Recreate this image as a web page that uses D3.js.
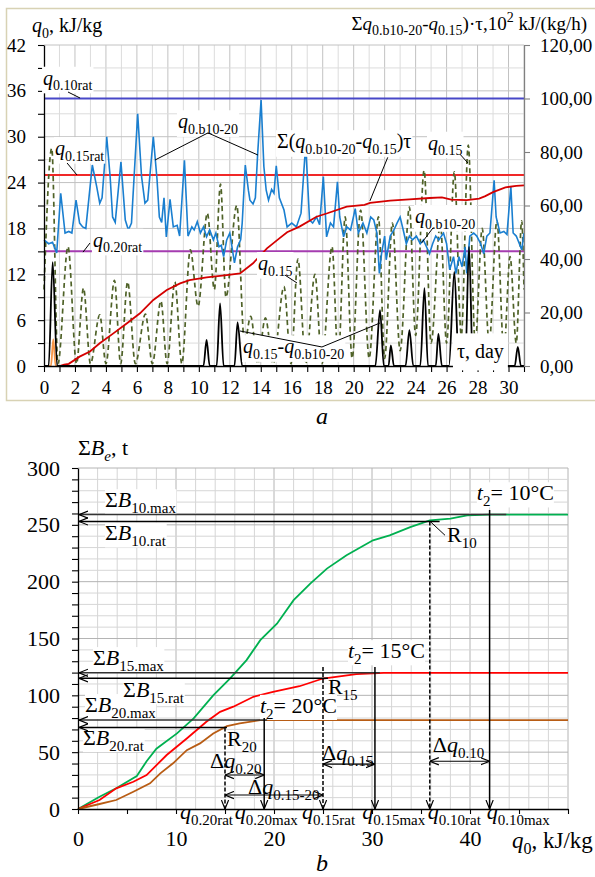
<!DOCTYPE html>
<html>
<head>
<meta charset="utf-8">
<script src="https://cdn.jsdelivr.net/npm/d3@7"></script>
<style>
  body { margin: 0; background: #fff; }
  svg text { white-space: pre; }
</style>
</head>
<body>
<script>
// ---------- chart a data: [day, value] ----------
const qb1020 = [
  [0,16.5],[0.3,16],[0.55,16.2],[0.82,14.8],[1.08,22.6],[1.36,17.4],[1.6,17.6],[1.8,17.4],[2.07,21.7],[2.3,18.7],
  [2.5,18.2],[2.7,18],[3.12,26.3],[3.4,23.5],[3.6,21.3],[3.75,22],[4.05,30],[4.27,24.8],[4.43,19.5],[4.6,18.8],
  [4.97,26.7],[5.25,19.1],[5.45,17.8],[5.65,18.7],[6.05,33],[6.3,24.8],[6.52,21.3],[6.7,21.7],[7.06,30],[7.3,24.4],
  [7.45,19.5],[7.6,18.8],[7.75,22],[7.9,16.9],[8.14,21.8],[8.35,18.2],[8.6,18.4],[8.76,17],[9.07,26.9],[9.3,17],
  [9.55,18.2],[9.7,17.8],[9.9,18.9],[10.1,17.4],[10.3,18.2],[10.5,16.9],[10.7,17.8],[10.94,16.5],[11.1,17.4],[11.3,15.6],
  [11.45,15.8],[11.6,14.3],[11.8,16.5],[12.0,17.4],[12.3,13.5],[12.5,15.6],[12.7,16.5],[12.8,18.7],[13.0,26.3],[13.2,23],
  [13.3,21.7],[13.5,21.2],[13.65,22],[13.8,27.8],[14.02,34.8],[14.2,26.1],[14.35,23],[14.5,21.7],[14.7,23.1],[14.85,22.6],
  [15.0,26.2],[15.2,22],[15.5,20.4],[15.7,18.2],[16.0,18.7],[16.3,18.2],[16.6,20],[16.9,29],[17.15,19.1],[17.35,18.7],
  [17.6,19.5],[17.8,18.5],[18.04,24.8],[18.25,16.9],[18.5,18.7],[18.7,18.2],[18.95,24.1],[19.1,19.5],[19.35,16.9],[19.55,18.2],
  [19.8,17.8],[20.1,20.6],[20.3,17.4],[20.6,18.7],[20.85,17.4],[21.1,19.5],[21.3,19.1],[21.5,17.4],[21.66,12.1],[21.8,14.7],
  [22.0,17],[22.1,13.9],[22.36,17],[22.6,17.8],[22.8,18.7],[23.0,19.5],[23.2,17.8],[23.4,16],[23.6,17],[23.8,16.5],
  [24.05,17],[24.3,16],[24.5,16.5],[24.7,15.6],[24.9,14.7],[25.1,16],[25.3,17],[25.5,16.5],[25.8,17.4],[26.0,16],
  [26.2,12.6],[26.45,14.3],[26.6,12.1],[26.8,14.3],[27.0,13],[27.2,15.6],[27.3,12.1],[27.5,17],[27.75,17.4],[27.95,17],
  [28.2,16],[28.4,14.7],[28.6,17],[28.8,17.4],[29.07,24.3],[29.2,19.5],[29.45,17.4],[29.7,17.6],[29.9,17.2],[30.15,23.5],
  [30.3,17.4],[30.5,17],[30.7,16],[30.85,15.2],[31,17.4]
];
const q015 = [
  [0,10],[0.5,28.5],[0.9,0.3],[1.55,15.6],[2.1,0.3],[2.55,10.2],[3.0,0.3],[3.6,6.7],[4.0,0.3],[4.55,11.2],
  [4.95,0.3],[5.4,11],[5.9,0.3],[6.55,6.8],[7.0,0.3],[7.55,8.5],[7.95,0.3],[8.45,11],[8.9,0.3],[9.45,15.2],
  [9.95,7.8],[10.55,20],[11.0,10],[11.4,23.8],[11.75,9],[12.45,21],[12.95,3],[13.35,6.5],[13.8,0.3],[14.3,6.3],
  [14.8,0.3],[15.5,10.4],[15.95,0.3],[16.4,14],[16.9,0.3],[17.5,12],[17.95,0.3],[18.6,15.6],[19.0,0.8],[19.45,19.5],
  [19.9,1],[20.45,20.4],[21.0,1],[21.6,19.5],[22.0,1],[22.5,18.7],[23.0,2],[23.6,20.8],[24.0,4],[24.55,25.6],
  [25.0,3],[25.6,18.7],[26.0,3],[26.5,25.4],[26.95,4],[27.4,28.9],[27.85,3],[28.3,18],[28.75,3],[29.25,19],
  [29.7,2],[30.1,14.3],[30.5,3],[30.85,19],[31,10]
];
const diff = [
  [0,0],[0.3,0],[0.56,13.6],[0.85,0],[10.3,0],[10.5,3.4],[10.7,0],[11.15,0],[11.37,8.2],[11.6,0],
  [12.3,0],[12.5,5.7],[12.8,0],[21.4,0],[21.7,7.3],[21.95,0],[22.25,0],[22.4,2.7],[22.6,0],[23.35,0],
  [23.6,4.7],[23.85,0],[24.3,0],[24.57,10.2],[24.8,0],[25.3,0],[25.47,4.2],[25.7,0],[26.15,0],[26.5,12.3],
  [26.8,0],[27.2,0],[27.45,15.6],[27.7,0],[30.4,0],[30.6,2.5],[30.8,0],[31,0]
];
const orangePeak = [[0,0],[0.45,0],[0.6,3.5],[0.75,0],[1,0]];
// cumulative, right axis (10^2 kJ/(kg/h))
const sigma = [
  [1.0,0],[1.3,0.5],[1.6,0.8],[2.3,3.5],[2.97,5.4],[3.6,8.5],[4.48,12.2],[5.34,15.9],[6.2,19.7],[7.06,24.7],
  [7.93,28.4],[8.79,30.9],[9.4,32.1],[10.5,33.1],[11.8,34],[12.66,34.6],[13.5,38.4],[14.4,44],[15.2,47.7],[15.7,50],
  [16.5,52.1],[17.6,55.8],[18.3,57.1],[19.55,59.6],[20.7,60.2],[21.06,61],[22.35,61.8],[23.6,62.3],[24.9,62.8],[25.7,63],
  [26.3,62.2],[27.3,62],[28.1,62.6],[28.5,63.5],[29.0,65],[29.8,66.8],[30.5,67.3],[31,67.5]
];
const refLevels = [35, 25, 15];
const refColors = ['#4848c8', '#f02828', '#a53cb0'];
const dayTicks = d3.range(0, 32, 1);

// ---------- chart b data: [q0, sum B] ----------
const b10 = [
  [0,0],[2.2,10.8],[3.9,18.2],[6,29],[7,42],[8,53],[10.1,66.5],[11.8,79.7],[13.8,100],[15.5,114.8],
  [17.2,131],[18.6,148.5],[20.3,163],[22,183.7],[23.7,198.3],[25.4,211.5],[27.4,223.2],[30.1,236.4],[31.8,240.8],[33.9,248],
  [35.9,254],[38,255.4],[39.7,258.4],[42,259],[50,259]
];
const b15 = [
  [0,0],[2.2,7.9],[3.9,18.2],[5.65,24],[7,29.9],[9.05,47.5],[11.1,62],[13.1,76.7],[14.5,85.5],[15.85,90],
  [17.9,98.7],[19.9,103],[22.6,108],[25,114.8],[28.4,118.6],[31.2,119.8],[50,119.8]
];
const b20 = [
  [0,0],[2.2,4.4],[3.9,7.9],[5.65,15.2],[7.35,22.6],[8.4,31.4],[9.7,40.2],[11.1,51.8],[12.45,57.7],[13.8,66.5],
  [15.2,72.9],[16.5,75.3],[18.6,78.2],[50,78.2]
];
const bColors = ['#00b050', '#ff0000', '#b85c14'];
// per temperature: max/rat sums, q0 values, line extents
const bRefs = [
  { max: 259, rat: 253, qMax: 42, qRat: 35.9, maxEnd: 43.7, ratEnd: 36.9, solidTop: 263, dashTop: 253 },
  { max: 119.8, rat: 115, qMax: 30.3, qRat: 25, maxEnd: 30.8, ratEnd: 25.5, solidTop: 125, dashTop: 125 },
  { max: 78.2, rat: 71.8, qMax: 19, qRat: 15, maxEnd: 19.3, ratEnd: 15.2, solidTop: 80, dashTop: 71.8 },
];
const deltas = [[15, 19, 29.9], [15, 25, 12.3], [25, 30.3, 39.5], [35.9, 42, 42]];

// ---------- helpers ----------
const FONT = "'Liberation Serif', 'Times New Roman', 'DejaVu Serif', serif";
const Q = (s) => [['q', 'i'], [s, 's']];
const SB = (s) => [['Σ', ''], ['B', 'i'], [s, 's']];
const T2 = (n) => [['t', 'i'], ['2', 's'], ['= ' + n + '°C', '']];
const DQ = (s) => [['Δ', ''], ['q', 'i'], [s, 's']];

function rich(g, x, y, parts, size, sub, anchor) {
  const t = g.append('text').attr('x', x).attr('y', y)
    .attr('font-family', FONT)
    .attr('font-size', size).attr('text-anchor', anchor || 'start');
  let shift = 0;
  parts.forEach(([s, k]) => {
    const lvl = (k === 's' || k === 'is') ? size * 0.28 : k === 'u' ? -size * 0.4 : 0;
    const ts = t.append('tspan').attr('dy', lvl - shift).text(s);
    shift = lvl;
    if (k === 's' || k === 'is' || k === 'u') ts.attr('font-size', sub);
    if (k === 'i' || k === 'is') ts.attr('font-style', 'italic');
  });
  return t;
}

function withBg(bgLayer, t, px, py) {
  const b = t.node().getBBox();
  bgLayer.append('rect')
    .attr('x', b.x - px).attr('y', b.y - py)
    .attr('width', b.width + 2 * px).attr('height', b.height + 2 * py)
    .attr('fill', '#fff');
}

function styleAxis(g, size, color) {
  g.attr('font-size', size).attr('font-family', FONT);
  g.selectAll('text').attr('font-family', FONT);
  g.select('.domain').attr('stroke', color).attr('stroke-width', 1.3);
  g.selectAll('.tick line').attr('stroke', color).attr('stroke-width', 1.1);
  g.selectAll('.tick text').attr('fill', '#000');
}

const svg = d3.select('body').append('svg').attr('width', 595).attr('height', 877)
  .attr('font-family', FONT);

// ======================= chart a =======================
const xA = d3.scaleLinear().domain([0, 31]).range([44, 524]);
const yA = d3.scaleLinear().domain([0, 42]).range([366, 45]);
const yA2 = d3.scaleLinear().domain([0, 120]).range([366, 45]);

svg.append('rect').attr('x', 6.5).attr('y', 8.5).attr('width', 600).attr('height', 392)
  .attr('fill', '#fff').attr('stroke', '#d8d2b4').attr('stroke-width', 1.5);

const ga = svg.append('g');
ga.append('g').selectAll('line').data(d3.range(1, 32)).join('line')
  .attr('x1', (d) => xA(d)).attr('x2', (d) => xA(d))
  .attr('y1', yA(0)).attr('y2', yA(42))
  .attr('stroke', (d) => (d % 2 ? '#dcdcdc' : '#c2c2c2'));
ga.append('g').selectAll('line').data(d3.range(3, 43, 3)).join('line')
  .attr('x1', xA(0)).attr('x2', xA(31))
  .attr('y1', (d) => yA(d)).attr('y2', (d) => yA(d))
  .attr('stroke', (d) => (d % 6 ? '#dcdcdc' : '#c2c2c2'));

ga.append('g').selectAll('line').data(refLevels).join('line')
  .attr('x1', xA(0)).attr('x2', xA(31))
  .attr('y1', (d) => yA(d)).attr('y2', (d) => yA(d))
  .attr('stroke', (d, i) => refColors[i]).attr('stroke-width', 2);

const smoothA = d3.line().x((d) => xA(d[0])).y((d) => yA(d[1])).curve(d3.curveMonotoneX);
const lineA = d3.line().x((d) => xA(d[0])).y((d) => yA(d[1]));
const lineA2 = d3.line().x((d) => xA(d[0])).y((d) => yA2(d[1]));

ga.append('path').datum(q015).attr('d', smoothA)
  .attr('fill', 'none').attr('stroke', '#4f6228').attr('stroke-width', 1.7)
  .attr('stroke-dasharray', '5,3.5');
ga.append('path').datum(qb1020).attr('d', lineA)
  .attr('fill', 'none').attr('stroke', '#1a7fd0').attr('stroke-width', 1.6);
ga.append('path').datum(sigma).attr('d', lineA2)
  .attr('fill', 'none').attr('stroke', '#d40000').attr('stroke-width', 1.8);
ga.append('path').datum(orangePeak).attr('d', smoothA)
  .attr('fill', 'none').attr('stroke', '#f79646').attr('stroke-width', 1.8);
ga.append('path').datum(diff).attr('d', smoothA)
  .attr('fill', 'none').attr('stroke', '#000').attr('stroke-width', 1.8);

// axes
ga.append('g').attr('transform', `translate(${xA(0)},0)`)
  .call(d3.axisLeft(yA).tickValues(d3.range(0, 43, 3)).tickFormat((d) => (d % 6 ? '' : d))
    .tickSize(6).tickPadding(12).tickSizeOuter(0))
  .call((g) => styleAxis(g, 19, '#000'));
ga.append('g').attr('transform', `translate(0,${yA(0)})`)
  .call(d3.axisBottom(xA).tickValues(dayTicks).tickFormat((d) => (d % 2 ? '' : d))
    .tickSize(6).tickPadding(9).tickSizeOuter(0))
  .call((g) => styleAxis(g, 19, '#000'));
ga.append('g').attr('transform', `translate(${xA(31)},0)`)
  .call(d3.axisRight(yA2).tickValues(d3.range(0, 121, 20))
    .tickFormat((d) => d3.format('.2f')(d).replace('.', ','))
    .tickSize(6).tickPadding(10).tickSizeOuter(0))
  .call((g) => styleAxis(g, 19, '#808080'));

// titles
rich(ga, 32, 32, [['q', 'i'], ['0', 's'], [', kJ/kg', '']], 20, 14);
rich(ga, 587, 30, [['Σ', ''], ...Q('0.b10-20'), ['-', ''], ...Q('0.15'), [')·τ,10', ''], ['2', 'u'], [' kJ/(kg/h)', '']], 19, 14, 'end');

// annotations
const labelsA = [
  { p: Q('0.10rat'), d: -0.06, v: 36.8 },
  { p: Q('0.15rat'), d: 0.71, v: 27.6 },
  { p: Q('0.b10-20'), d: 8.65, v: 31.1 },
  { p: [['Σ(', ''], ...Q('0.b10-20'), ['-', ''], ...Q('0.15'), [')τ', '']], d: 15.05, v: 28.5 },
  { p: Q('0.15'), d: 24.8, v: 28.3 },
  { p: Q('0.b10-20'), d: 23.96, v: 18.7 },
  { p: Q('0.20rat'), d: 3.16, v: 15.6 },
  { p: Q('0.15'), d: 13.82, v: 12.56 },
  { p: [...Q('0.15'), ['-', ''], ...Q('0.b10-20')], d: 12.85, v: 1.66 },
  { p: [['τ, day', '']], d: 26.67, v: 1.0, pad: [4, 7] },
];
const leadersA = [
  [[1.55, 35.85], [2.33, 35.06]], [[1.49, 26.56], [2.13, 24.99]],
  [[10.59, 30.5], [7.17, 26.95]], [[10.59, 30.5], [13.82, 27.6]],
  [[22.2, 27.3], [21.05, 21.6]], [[26.87, 27.7], [27.38, 26.56]],
  [[25.12, 18.06], [24.39, 16.1]], [[2.97, 16.09], [2.52, 14.9]],
  [[15.56, 11.9], [16.34, 10.86]], [[17.95, 2.49], [12.66, 4.58]],
  [[17.95, 2.49], [21.7, 5.63]],
];
const bgA = ga.append('g');
const txtA = ga.append('g');
labelsA.forEach((l) => {
  const t = rich(txtA, xA(l.d), yA(l.v), l.p, 20, 14);
  const [px, py] = l.pad || [1, 0];
  withBg(bgA, t, px, py);
});
ga.append('g').selectAll('path').data(leadersA).join('path')
  .attr('d', d3.line().x((d) => xA(d[0])).y((d) => yA(d[1])))
  .attr('stroke', '#000').attr('stroke-width', 1).attr('fill', 'none');

rich(svg, 322, 424, [['a', 'i']], 24, 16, 'middle');

// ======================= chart b =======================
const xB = d3.scaleLinear().domain([0, 50]).range([78, 568]);
const yB = d3.scaleLinear().domain([0, 300]).range([809, 468]);
const gb = svg.append('g');

const defs = svg.append('defs');
defs.append('marker').attr('id', 'arr')
  .attr('viewBox', '0 -5 10 10').attr('refX', 10).attr('refY', 0)
  .attr('markerUnits', 'userSpaceOnUse').attr('markerWidth', 9).attr('markerHeight', 9)
  .attr('orient', 'auto-start-reverse')
  .append('path').attr('d', 'M0,-4L10,0L0,4').attr('fill', 'none')
  .attr('stroke', '#000').attr('stroke-width', 1.3);

gb.append('g').selectAll('line').data(d3.range(2, 51, 2)).join('line')
  .attr('x1', (d) => xB(d)).attr('x2', (d) => xB(d))
  .attr('y1', yB(0)).attr('y2', yB(300))
  .attr('stroke', (d) => (d % 10 ? '#d6d6d6' : '#b4b4b4'));
gb.append('g').selectAll('line').data(d3.range(10, 301, 10)).join('line')
  .attr('x1', xB(0)).attr('x2', xB(50))
  .attr('y1', (d) => yB(d)).attr('y2', (d) => yB(d))
  .attr('stroke', (d) => (d % 50 ? '#d6d6d6' : '#b4b4b4'));

const lineB = d3.line().x((d) => xB(d[0])).y((d) => yB(d[1]));
gb.append('g').selectAll('path').data([b10, b15, b20]).join('path')
  .attr('d', lineB).attr('fill', 'none')
  .attr('stroke', (d, i) => bColors[i]).attr('stroke-width', 1.8);

// axes
gb.append('g').attr('transform', `translate(${xB(0)},0)`)
  .call(d3.axisLeft(yB).tickValues(d3.range(0, 301, 10)).tickFormat((d) => (d % 50 ? '' : d))
    .tickSize(6).tickPadding(12).tickSizeOuter(0))
  .call((g) => styleAxis(g, 22, '#000'));
gb.append('g').attr('transform', `translate(0,${yB(0)})`)
  .call(d3.axisBottom(xB).tickValues(d3.range(0, 51, 5)).tickFormat((d) => (d % 10 || d === 50 ? '' : d))
    .tickSize(5).tickPadding(16).tickSizeOuter(0))
  .call((g) => styleAxis(g, 22, '#000'));

const labelsB = [
  { p: SB('10.max'), q: 2.76, b: 265.5, bg: true },
  { p: SB('10.rat'), q: 2.76, b: 236.4, bg: true },
  { p: SB('15.max'), q: 1.53, b: 126.6, bg: true },
  { p: SB('15.rat'), q: 4.6, b: 98.4, bg: true },
  { p: SB('20.max'), q: 0.71, b: 85.3, bg: true },
  { p: SB('20.rat'), q: 0.51, b: 56.3, bg: true },
  { p: [['R', ''], ['10', 's']], q: 37.65, b: 234.7 },
  { p: [['R', ''], ['15', 's']], q: 25.5, b: 101 },
  { p: [['R', ''], ['20', 's']], q: 15.2, b: 55.5 },
  { p: T2('10'), q: 40.7, b: 271.6, bg: true },
  { p: T2('15'), q: 27.55, b: 132.7, bg: true },
  { p: T2('20'), q: 18.57, b: 84.6, bg: true },
  { p: DQ('0.20'), q: 13.47, b: 36 },
  { p: DQ('0.15-20'), q: 17.35, b: 13.6 },
  { p: DQ('0.15'), q: 24.9, b: 43 },
  { p: DQ('0.10'), q: 36.2, b: 50.1 },
];
const bottomB = [
  { p: Q('0.20rat'), q: 10.4 }, { p: Q('0.20max'), q: 16.0 },
  { p: Q('0.15rat'), q: 22.86 }, { p: Q('0.15max'), q: 29.0 },
  { p: Q('0.10rat'), q: 35.7 }, { p: Q('0.10max'), q: 41.7 },
];
const bgB = gb.append('g');

// reference arrows
const arrows = gb.append('g').attr('stroke', '#000').attr('stroke-width', 1.5).attr('fill', 'none');
bRefs.forEach((r) => {
  arrows.append('line').attr('x1', xB(r.maxEnd)).attr('x2', xB(0) + 1)
    .attr('y1', yB(r.max)).attr('y2', yB(r.max)).attr('stroke', '#333').attr('marker-end', 'url(#arr)');
  arrows.append('line').attr('x1', xB(r.ratEnd)).attr('x2', xB(0) + 1)
    .attr('y1', yB(r.rat)).attr('y2', yB(r.rat)).attr('marker-end', 'url(#arr)');
  arrows.append('line').attr('x1', xB(r.qMax)).attr('x2', xB(r.qMax))
    .attr('y1', yB(r.solidTop)).attr('y2', yB(0)).attr('marker-end', 'url(#arr)');
  arrows.append('line').attr('x1', xB(r.qRat)).attr('x2', xB(r.qRat))
    .attr('y1', yB(r.dashTop)).attr('y2', yB(0)).attr('stroke-dasharray', '4,2')
    .attr('marker-end', 'url(#arr)');
});
deltas.forEach(([a, b, v]) => {
  arrows.append('line').attr('x1', xB(a)).attr('x2', xB(b))
    .attr('y1', yB(v)).attr('y2', yB(v)).attr('stroke-width', 1.2)
    .attr('marker-start', 'url(#arr)').attr('marker-end', 'url(#arr)');
});
arrows.append('line').attr('x1', xB(35.92)).attr('y1', yB(253.1))
  .attr('x2', xB(37.45)).attr('y2', yB(240.8)).attr('stroke-width', 1);

const txtB = gb.append('g');
labelsB.forEach((l) => {
  const t = rich(txtB, xB(l.q), yB(l.b), l.p, 22, 15);
  if (l.bg) withBg(bgB, t, 0, -2);
});
bottomB.forEach((l) => rich(txtB, xB(l.q), yB(-8.6), l.p, 22, 15));

rich(gb, 78, 455, [['Σ', ''], ['B', 'i'], ['e', 'is'], [', t', '']], 22, 15);
rich(gb, 512, 848, [['q', 'i'], ['0', 's'], [', kJ/kg', '']], 23, 16);
rich(svg, 322, 871, [['b', 'i']], 24, 16, 'middle');
</script>
</body>
</html>
